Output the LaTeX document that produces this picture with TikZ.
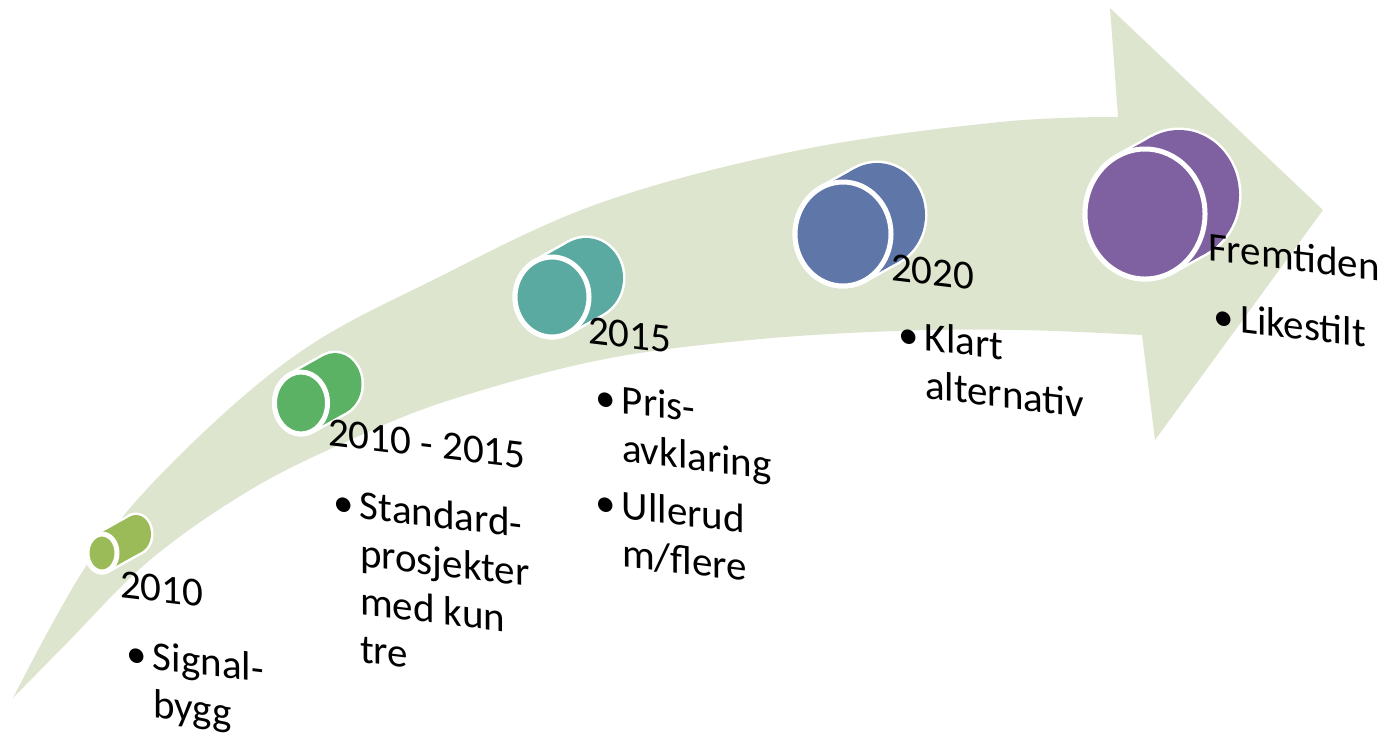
\documentclass[tikz,border=0pt]{standalone}
\usepackage{fontspec}
\setmainfont{Carlito}
\usetikzlibrary{calc}

\definecolor{arrowgreen}{RGB}{222,229,207}
\definecolor{cylA}{RGB}{155,187,89}
\definecolor{cylB}{RGB}{92,178,100}
\definecolor{cylC}{RGB}{91,170,162}
\definecolor{cylD}{RGB}{95,118,168}
\definecolor{cylE}{RGB}{127,96,160}

% bullet with a fixed hanging width
\newcommand\bul{\makebox[13.5pt][l]{\textbullet}}
% bullet list: first column holds the bullets, second the wrapped text
\newcommand\itemlist[1]{\begin{tabular}[t]{@{}l@{}l@{}}#1\end{tabular}}

% tilted cylinder: #1 name, #2 colour, #3/#4 centre of front face, #5/#6 radii
\newcommand\drawcyl[6]{%
  \pgfmathsetmacro\cyla{atan(34*#6/(19*#5))}%
  \pgfmathsetmacro\cylpx{#5*cos(\cyla)}%
  \pgfmathsetmacro\cylpy{#6*sin(\cyla)}%
  \coordinate (#1-f) at (#3,#4);
  \coordinate (#1-b) at ({#3+34},{#4-19});
  \coordinate (#1-f1) at ({#3+\cylpx},{#4+\cylpy});
  \coordinate (#1-f2) at ({#3-\cylpx},{#4-\cylpy});
  \coordinate (#1-b1) at ({#3+34+\cylpx},{#4-19+\cylpy});
  \coordinate (#1-b2) at ({#3+34-\cylpx},{#4-19-\cylpy});
  \draw[cylrim] (#1-b) ellipse [x radius=#5, y radius=#6];
  \draw[cylrim] (#1-f1) -- (#1-b1) -- (#1-b2) -- (#1-f2) -- cycle;
  \draw[cylrim] (#1-f) ellipse [x radius=#5, y radius=#6];
  \fill[#2] (#1-b) ellipse [x radius=#5, y radius=#6];
  \fill[#2] (#1-f1) -- (#1-b1) -- (#1-b2) -- (#1-f2) -- cycle;
  \draw[cylrim, fill=#2] (#1-f) ellipse [x radius=#5, y radius=#6];
}

\begin{document}
\begin{tikzpicture}[x=0.5pt,y=-0.5pt,
  cylrim/.style={draw=white, line width=2.5pt, line join=round},
  stagetext/.style={anchor=base west, inner sep=0pt, outer sep=0pt,
    yslant=-0.12, font=\fontsize{20.5}{24}\selectfont},
]
\useasboundingbox (0,0) rectangle (1384,736);

% curved arrow
\fill[arrowgreen]
  plot[smooth, tension=0.6] coordinates {(13,698) (90,560) (180,455) (300,352)
    (433,280) (600,203) (800,150) (1000,122) (1118,117)}
  -- (1110,8) -- (1323,210) -- (1155,440) -- (1142,335)
  -- plot[smooth, tension=0.6] coordinates {(1142,335) (1020,330) (895,331)
    (750,340) (600,360) (450,400) (350,440) (250,490) (150,560) (67,643) (13,698)}
  -- cycle;

% milestones
\drawcyl{cA}{cylA}{102}{553}{15}{19}
\drawcyl{cB}{cylB}{301}{403}{26.5}{31}
\drawcyl{cC}{cylC}{552}{297}{37}{40}
\drawcyl{cD}{cylD}{843}{234}{48}{52}
\drawcyl{cE}{cylE}{1145}{214}{60}{65}

% headings and their bullet lists
\node[stagetext] (y2010) at (120,597) {2010};
\node[stagetext] (y2010a) at (126,666) {\itemlist{\bul & Signal-\\ & bygg}};

\node[stagetext] (p1) at (328,445) {2010 - 2015};
\node[stagetext] (p1a) at (333,515)
  {\itemlist{\bul & Standard-\\ & prosjekter\\ & med kun\\ & tre}};

\node[stagetext] (y2015) at (588,343) {2015};
\node[stagetext] (y2015a) at (595,410)
  {\itemlist{\bul & Pris-\\ & avklaring\\[4.5pt] \bul & Ullerud\\ & m/flere}};

\node[stagetext] (y2020) at (891,280) {2020};
\node[stagetext] (y2020a) at (898,347) {\itemlist{\bul & Klart\\ & alternativ}};

\node[stagetext] (fut) at (1208,260) {Fremtiden};
\node[stagetext] (futa) at (1213,329) {\itemlist{\bul & Likestilt}};
\end{tikzpicture}
\end{document}
